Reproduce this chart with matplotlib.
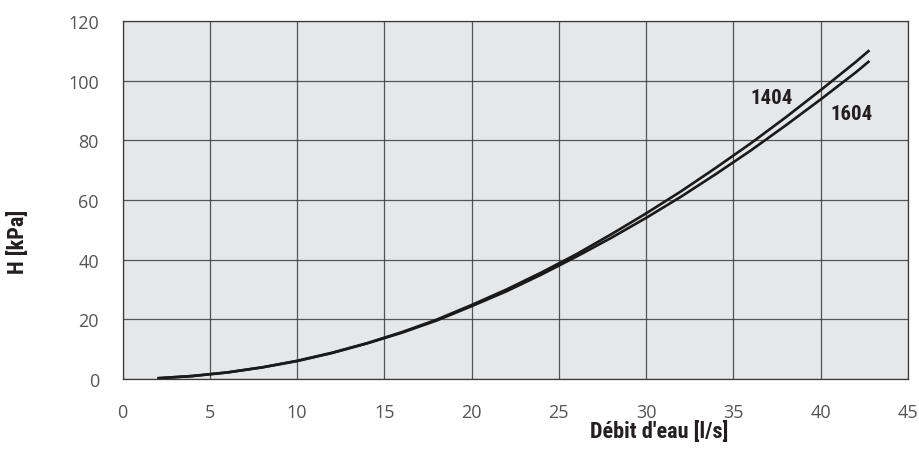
import matplotlib
matplotlib.use("Agg")
import matplotlib.pyplot as plt
from matplotlib import font_manager

# Water flow [l/s] and pressure drop [kPa] for the two units
flow = [2, 4, 6, 8, 10, 12, 14, 16, 18, 20, 22, 24, 26, 28, 30,
        32, 34, 36, 38, 40, 42, 42.8]
h_1404 = [0.25, 1.0, 2.2, 3.9, 6.1, 8.8, 12.0, 15.7, 19.9, 24.8, 30.0,
          35.7, 41.8, 48.5, 55.5, 62.9, 70.8, 79.0, 87.7, 96.8, 106.2, 110.2]
h_1604 = [0.25, 1.0, 2.2, 3.9, 6.0, 8.7, 11.9, 15.5, 19.6, 24.4, 29.4,
          35.0, 41.0, 47.3, 54.0, 61.1, 68.7, 76.6, 85.0, 93.7, 102.7, 106.6]

series_names = ["1404", "1604"]
label_pos = [(37.2, 94.2), (41.8, 89.0)]

x_ticks = [0, 5, 10, 15, 20, 25, 30, 35, 40, 45]
y_ticks = [0, 20, 40, 60, 80, 100, 120]

# Pick a narrow bold face for the titles and curve names
fonts = font_manager.fontManager.ttflist
names = {f.name for f in fonts}
narrow_kw = None
for cand in ["Liberation Sans Narrow", "Roboto Condensed", "Open Sans Condensed"]:
    if cand in names:
        narrow_kw = dict(family=cand, fontweight="bold")
        break
if narrow_kw is None:
    if any(f.name == "DejaVu Sans" and f.stretch == "condensed" and f.weight in (700, "bold")
           for f in fonts):
        narrow_kw = dict(family="DejaVu Sans", fontweight="bold", fontstretch="condensed")
    elif "Roboto" in names:
        narrow_kw = dict(family="Roboto", fontweight="bold")
    else:
        narrow_kw = dict(family="DejaVu Sans", fontweight="bold")
tick_font = "Open Sans" if "Open Sans" in names else "DejaVu Sans"

fig = plt.figure(figsize=(9.2, 4.6), dpi=100)
ax = fig.add_axes([0.1332, 0.1739, 0.8536, 0.7783])
ax.set_facecolor("#e6e7e9")

ax.plot(flow, h_1404, color="#1a1a1a", lw=1.9, solid_capstyle="butt", zorder=3)
ax.plot(flow, h_1604, color="#1a1a1a", lw=1.9, solid_capstyle="butt", zorder=3)

for name, (lx, ly) in zip(series_names, label_pos):
    ax.text(lx, ly, name, fontsize=15, color="#231f20",
            ha="center", va="center", zorder=4, **narrow_kw)

ax.set_xlim(0, 45)
ax.set_ylim(0, 120)
ax.set_xticks(x_ticks)
ax.set_yticks(y_ticks)
ax.grid(True, color="#3a3a3a", lw=0.9, alpha=0.85)
ax.set_axisbelow(True)
ax.tick_params(length=0, labelsize=13, labelcolor="#555555")
ax.tick_params(axis="x", pad=17)
ax.tick_params(axis="y", pad=17)
for lab in ax.get_xticklabels() + ax.get_yticklabels():
    lab.set_family(tick_font)
for sp in ax.spines.values():
    sp.set_color("#3a3a3a")
    sp.set_linewidth(0.9)

fig.text(0.7913, 0.060, "Débit d'eau [l/s]", fontsize=16, color="#231f20",
         ha="right", va="center", **narrow_kw)
fig.text(0.0196, 0.475, "H [kPa]", fontsize=16, color="#231f20",
         ha="center", va="center", rotation=90, **narrow_kw)

fig.savefig("out.png", dpi=100)
